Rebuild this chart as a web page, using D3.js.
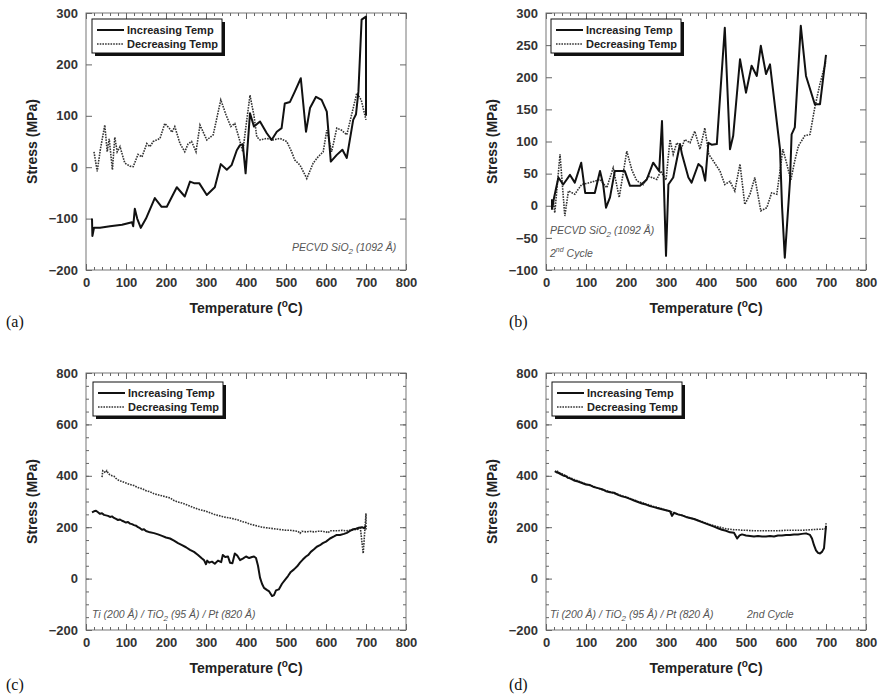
<!DOCTYPE html>
<html>
<head>
<meta charset="utf-8">
<script src="https://cdn.jsdelivr.net/npm/d3@7"></script>
<style>
  html, body { margin: 0; padding: 0; background: #fff; }
  svg { display: block; }
  .tick text { font-family: "Liberation Sans", Arial, sans-serif; font-weight: bold; font-size: 13px; fill: #333; }
</style>
</head>
<body>
<script>
// ---- Data: temperature (°C) vs film stress (MPa) ----
const xTicks = [0, 100, 200, 300, 400, 500, 600, 700, 800];
const yTicksA = [-200, -100, 0, 100, 200, 300];
const yTicksB = [-100, -50, 0, 50, 100, 150, 200, 250, 300];
const yTicksC = [-200, 0, 200, 400, 600, 800];

const legendLabels = ["Increasing Temp", "Decreasing Temp"];

// (a) PECVD SiO2, first cycle
const incA = [[15,-100],[16,-134],[20,-118],[35,-118],[60,-115],[90,-112],[115,-107],[118,-115],[122,-81],[128,-100],[137,-118],[150,-100],[172,-60],[189,-77],[202,-77],[227,-39],[247,-57],[260,-28],[270,-31],[283,-31],[302,-54],[322,-39],[337,6],[352,-5],[364,4],[377,33],[385,43],[392,45],[399,-12],[410,105],[420,79],[435,89],[452,66],[464,53],[477,69],[489,76],[497,124],[510,127],[522,147],[537,173],[550,69],[560,115],[575,137],[589,131],[602,108],[612,11],[627,24],[641,34],[652,18],[668,92],[675,103],[681,147],[689,287],[700,293],[700,100]];
const decA = [[20,30],[28,-8],[36,35],[47,82],[53,30],[58,55],[66,-5],[72,58],[78,30],[85,40],[97,8],[110,2],[118,1],[130,25],[140,20],[152,46],[160,40],[168,50],[185,56],[197,85],[208,76],[215,68],[222,79],[235,46],[247,30],[255,45],[264,50],[275,30],[285,82],[302,53],[318,63],[337,131],[350,102],[362,79],[372,85],[385,50],[392,30],[400,80],[410,140],[420,100],[427,59],[435,53],[452,56],[467,53],[485,56],[502,50],[514,30],[522,14],[535,4],[552,-22],[568,8],[580,20],[593,30],[602,72],[614,30],[627,76],[639,72],[652,63],[664,102],[677,144],[688,131],[700,92]];

// (b) PECVD SiO2, second cycle
const incB = [[15,10],[15,-5],[20,12],[31,44],[43,33],[60,48],[72,36],[88,67],[98,20],[122,20],[135,54],[143,33],[150,-3],[160,13],[172,54],[197,54],[210,31],[235,31],[252,41],[268,67],[283,54],[290,132],[300,-78],[306,33],[318,44],[335,96],[340,80],[356,44],[364,36],[381,65],[390,60],[398,39],[406,98],[414,95],[427,96],[447,277],[460,88],[468,109],[485,228],[500,176],[514,218],[527,202],[537,249],[550,205],[560,220],[585,88],[590,0],[597,-81],[610,39],[614,111],[622,122],[637,280],[650,202],[672,158],[685,158],[700,235]];
const decB = [[15,-5],[18,8],[22,-11],[35,80],[47,-16],[56,23],[72,18],[89,33],[110,36],[135,41],[152,28],[168,59],[183,13],[202,85],[215,55],[227,39],[243,33],[256,46],[277,41],[287,54],[300,40],[310,103],[318,80],[327,98],[339,90],[347,103],[360,98],[372,116],[385,88],[397,121],[407,80],[418,70],[435,54],[447,33],[460,38],[472,23],[485,65],[497,2],[510,18],[522,44],[537,-8],[552,-3],[564,20],[577,18],[585,54],[592,88],[600,70],[612,40],[622,70],[631,93],[647,109],[660,111],[672,153],[685,190],[700,225]];

// (c) Ti / TiO2 / Pt stack, first cycle
const incC = [[15,258],[20,262],[25,264],[30,258],[35,252],[40,254],[45,248],[50,246],[55,244],[60,240],[65,242],[70,236],[75,232],[80,228],[85,230],[90,225],[95,222],[100,218],[105,220],[110,214],[115,212],[120,208],[125,206],[130,200],[135,196],[140,190],[145,192],[150,185],[160,180],[170,177],[180,172],[190,166],[200,160],[210,156],[220,148],[230,138],[240,130],[250,122],[260,112],[270,104],[280,92],[290,78],[295,72],[300,56],[303,70],[308,62],[315,66],[322,58],[330,70],[338,64],[342,92],[348,84],[355,86],[360,62],[366,60],[372,98],[378,90],[385,72],[392,78],[400,86],[408,80],[415,84],[420,86],[425,80],[430,50],[435,4],[440,-20],[445,-36],[452,-44],[458,-50],[465,-68],[470,-64],[475,-46],[482,-42],[490,-20],[498,-4],[505,10],[512,26],[520,36],[528,48],[535,62],[542,74],[550,86],[556,92],[562,104],[570,114],[577,124],[585,130],[592,138],[600,144],[610,156],[620,164],[627,170],[635,170],[645,174],[652,178],[660,186],[668,192],[675,194],[682,198],[690,200],[695,196],[700,205]];
const decC = [[40,395],[42,420],[45,418],[48,412],[52,420],[56,408],[60,404],[65,400],[70,398],[75,390],[80,384],[85,380],[90,378],[100,372],[110,366],[120,362],[130,354],[140,350],[150,342],[160,338],[170,330],[180,326],[190,322],[200,318],[210,314],[220,304],[230,298],[240,294],[250,288],[260,282],[270,276],[280,270],[290,266],[300,262],[310,256],[320,250],[330,246],[340,242],[350,238],[360,236],[370,232],[380,228],[390,222],[400,218],[410,212],[420,208],[430,204],[440,200],[450,198],[460,196],[470,194],[480,192],[490,190],[500,188],[510,188],[520,186],[530,184],[535,176],[540,184],[550,182],[560,184],[570,182],[580,184],[590,184],[600,182],[605,178],[610,186],[620,186],[630,186],[640,188],[650,186],[660,188],[670,190],[680,192],[686,196],[693,98],[700,254],[700,190]];

// (d) Ti / TiO2 / Pt stack, second cycle
const incD = [[22,418],[26,414],[30,412],[35,408],[40,404],[45,400],[50,398],[55,392],[60,390],[70,382],[80,378],[90,372],[100,366],[110,364],[120,356],[130,352],[140,348],[150,340],[160,336],[170,334],[180,326],[190,320],[200,316],[210,310],[220,304],[230,298],[240,292],[250,288],[260,282],[270,278],[280,274],[290,270],[300,266],[310,262],[315,244],[320,256],[330,250],[340,246],[350,240],[360,236],[370,232],[380,226],[390,220],[400,214],[410,208],[420,202],[430,196],[440,190],[450,186],[460,180],[470,178],[478,156],[484,168],[490,172],[500,168],[510,166],[520,164],[530,166],[540,164],[550,164],[560,166],[570,164],[580,168],[590,168],[600,170],[610,170],[620,172],[630,172],[640,174],[650,176],[660,170],[665,156],[670,130],[675,110],[680,100],[685,98],[690,104],[695,118],[700,205]];
const decD = [[28,420],[30,414],[40,408],[50,400],[60,392],[70,386],[80,380],[90,374],[100,368],[110,362],[120,358],[130,352],[140,346],[150,342],[160,338],[170,332],[180,328],[190,322],[200,318],[210,312],[220,306],[230,300],[240,296],[250,290],[260,286],[270,280],[280,276],[290,272],[300,266],[310,262],[320,256],[330,250],[340,246],[350,240],[360,236],[370,232],[380,226],[390,222],[400,216],[410,210],[420,206],[430,202],[440,198],[450,194],[460,192],[470,190],[480,190],[490,188],[500,188],[520,186],[540,186],[560,186],[580,186],[600,188],[620,188],[640,188],[660,190],[680,192],[690,192],[700,195],[700,215]];

// ---- Layout ----
const W = 881, H = 699;
const FONT = '"Liberation Sans", Arial, sans-serif';
const SERIF = '"Liberation Serif", "Times New Roman", serif';

const panels = [
  { tag: "(a)", left: 86,  top: 13,  yDomain: [-200, 300], yTicks: yTicksA, yMinor: [],
    inc: incA, dec: decA, legend: { x: 92, y: 19 }, tagPos: { x: 6, y: 327 },
    notes: [{ x: 292, y: 251, parts: [["PECVD SiO", 0], ["2", 1], [" (1092 Å)", 0]] }] },
  { tag: "(b)", left: 546, top: 13,  yDomain: [-100, 300], yTicks: yTicksB, yMinor: [],
    inc: incB, dec: decB, legend: { x: 551, y: 19 }, tagPos: { x: 509, y: 327 },
    notes: [{ x: 550, y: 234, parts: [["PECVD SiO", 0], ["2", 1], [" (1092 Å)", 0]] },
            { x: 550, y: 257, parts: [["2", 0], ["nd", 2], [" Cycle", 0]] }] },
  { tag: "(c)", left: 86,  top: 373, yDomain: [-200, 800], yTicks: yTicksC, yMinor: d3.range(-200, 801, 50),
    inc: incC, dec: decC, legend: { x: 93, y: 382 }, tagPos: { x: 6, y: 690 },
    notes: [{ x: 92, y: 618, parts: [["Ti (200 Å) / TiO", 0], ["2", 1], [" (95 Å) / Pt (820 Å)", 0]] }] },
  { tag: "(d)", left: 546, top: 373, yDomain: [-200, 800], yTicks: yTicksC, yMinor: d3.range(-200, 801, 50),
    inc: incD, dec: decD, legend: { x: 552, y: 382 }, tagPos: { x: 509, y: 690 },
    notes: [{ x: 550, y: 618, parts: [["Ti (200 Å) / TiO", 0], ["2", 1], [" (95 Å) / Pt (820 Å)", 0]] },
            { x: 747, y: 618, parts: [["2nd Cycle", 0]] }] }
];
const PW = 320, PH = 257;

const svg = d3.select("body").append("svg").attr("width", W).attr("height", H);

panels.forEach(p => {
  const x = d3.scaleLinear().domain([0, 800]).range([p.left, p.left + PW]);
  const y = d3.scaleLinear().domain(p.yDomain).range([p.top + PH, p.top]);
  const g = svg.append("g");
  const xMinor = d3.range(0, 801, 20);

  // frame
  g.append("rect").attr("x", p.left).attr("y", p.top).attr("width", PW).attr("height", PH)
    .attr("fill", "none").attr("stroke", "#777").attr("stroke-width", 1);

  const styleAxis = sel => { sel.select(".domain").remove(); sel.selectAll(".tick line").attr("stroke", "#666"); };

  // minor ticks (inward)
  g.append("g").attr("transform", `translate(0,${p.top + PH})`)
    .call(d3.axisBottom(x).tickValues(xMinor).tickSize(-3).tickFormat("")).call(styleAxis);
  g.append("g").attr("transform", `translate(0,${p.top})`)
    .call(d3.axisTop(x).tickValues(xMinor).tickSize(-3).tickFormat("")).call(styleAxis);
  if (p.yMinor.length) {
    g.append("g").attr("transform", `translate(${p.left},0)`)
      .call(d3.axisLeft(y).tickValues(p.yMinor).tickSize(-3).tickFormat("")).call(styleAxis);
    g.append("g").attr("transform", `translate(${p.left + PW},0)`)
      .call(d3.axisRight(y).tickValues(p.yMinor).tickSize(-3).tickFormat("")).call(styleAxis);
  }

  // major ticks with labels
  g.append("g").attr("transform", `translate(0,${p.top + PH})`)
    .call(d3.axisBottom(x).tickValues(xTicks).tickSize(-6).tickPadding(8).tickFormat(d3.format("d"))).call(styleAxis);
  g.append("g").attr("transform", `translate(${p.left},0)`)
    .call(d3.axisLeft(y).tickValues(p.yTicks).tickSize(-6).tickPadding(8).tickFormat(d3.format("d"))).call(styleAxis);
  g.append("g").attr("transform", `translate(0,${p.top})`)
    .call(d3.axisTop(x).tickValues(xTicks).tickSize(-6).tickFormat("")).call(styleAxis);
  g.append("g").attr("transform", `translate(${p.left + PW},0)`)
    .call(d3.axisRight(y).tickValues(p.yTicks).tickSize(-6).tickFormat("")).call(styleAxis);

  // axis titles
  const xt = g.append("text").attr("x", p.left + PW / 2).attr("y", p.top + PH + 43)
    .attr("text-anchor", "middle").attr("font-family", FONT).attr("font-weight", "bold")
    .attr("font-size", 14).attr("fill", "#222");
  xt.append("tspan").text("Temperature (");
  xt.append("tspan").text("o").attr("font-size", 10).attr("dy", -6);
  xt.append("tspan").text("C)").attr("dy", 6);

  g.append("text").attr("transform", `translate(${p.left - 49},${p.top + PH / 2}) rotate(-90)`)
    .attr("text-anchor", "middle").attr("font-family", FONT).attr("font-weight", "bold")
    .attr("font-size", 14).attr("fill", "#222").text("Stress (MPa)");

  // series
  const line = d3.line().x(d => x(d[0])).y(d => y(d[1]));
  g.append("path").datum(p.dec).attr("d", line).attr("fill", "none")
    .attr("stroke", "#333").attr("stroke-width", 1.6).attr("stroke-dasharray", "1.6,1.1");
  g.append("path").datum(p.inc).attr("d", line).attr("fill", "none")
    .attr("stroke", "#111").attr("stroke-width", 2).attr("stroke-linejoin", "round");

  // notes (with sub/superscript runs)
  p.notes.forEach(n => {
    const t = g.append("text").attr("x", n.x).attr("y", n.y).attr("font-family", FONT)
      .attr("font-style", "italic").attr("font-size", 10.5).attr("fill", "#555");
    let shift = 0;
    n.parts.forEach(([s, kind]) => {
      const ts = t.append("tspan").text(s);
      if (kind === 1) { ts.attr("font-size", 8).attr("dy", 3 - shift); shift = 3; }
      else if (kind === 2) { ts.attr("font-size", 7).attr("dy", -5 - shift); shift = -5; }
      else { ts.attr("dy", -shift); shift = 0; }
    });
  });

  // legend
  const L = p.legend, LW = 130, LH = 34;
  g.append("rect").attr("x", L.x + 3).attr("y", L.y + 3).attr("width", LW).attr("height", LH).attr("fill", "#111");
  g.append("rect").attr("x", L.x).attr("y", L.y).attr("width", LW).attr("height", LH)
    .attr("fill", "#fff").attr("stroke", "#111").attr("stroke-width", 1);
  legendLabels.forEach((lab, i) => {
    const yy = L.y + 11 + i * 14;
    g.append("line").attr("x1", L.x + 5).attr("x2", L.x + 32).attr("y1", yy).attr("y2", yy)
      .attr("stroke", i === 0 ? "#111" : "#333").attr("stroke-width", i === 0 ? 2 : 1.6)
      .attr("stroke-dasharray", i === 0 ? null : "1.6,1.1");
    g.append("text").attr("x", L.x + 35).attr("y", yy + 4).attr("font-family", FONT)
      .attr("font-weight", "bold").attr("font-size", 11).attr("fill", "#222").text(lab);
  });

  // panel tag
  g.append("text").attr("x", p.tagPos.x).attr("y", p.tagPos.y).attr("font-family", SERIF)
    .attr("font-size", 16).attr("fill", "#111").text(p.tag);
});
</script>
</body>
</html>
